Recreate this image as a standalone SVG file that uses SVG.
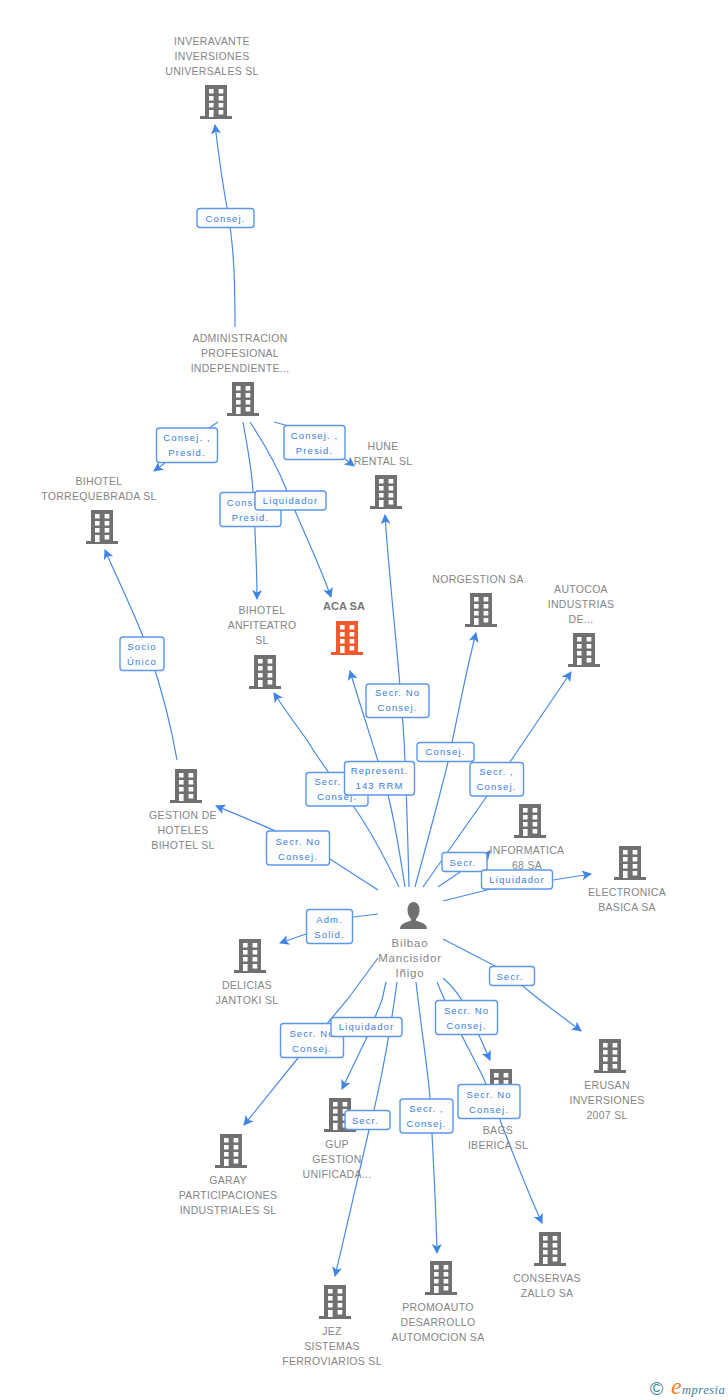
<svg xmlns="http://www.w3.org/2000/svg" width="728" height="1400" viewBox="0 0 728 1400">
<style>
text{font-family:"Liberation Sans",Arial,sans-serif}
.n{font-size:10.5px;fill:#858585;text-anchor:middle;letter-spacing:.3px}
.p{font-size:11.5px;fill:#858585;text-anchor:middle;letter-spacing:.8px}
.b{font-size:11px;font-weight:bold;fill:#777;text-anchor:middle}
.l{font-size:9.5px;fill:#3b80e0;text-anchor:middle;letter-spacing:1.1px}
.r{fill:#fdfdfd;stroke:#5b97ea;stroke-width:1.4}
.c{fill:none;stroke:#4a8ae6;stroke-width:1.2;marker-end:url(#a)}
</style>
<defs>
<marker id="a" markerUnits="userSpaceOnUse" markerWidth="12" markerHeight="12" refX="9" refY="5" orient="auto"><path d="M0 0L10 5L0 10L2.5 5Z" fill="#3f84e4"/></marker>
<g id="w"><path d="M-7 4h4.6v4.500H-7zM2.600 4h4.700v4.500H2.600zM-7 11h4.600v4.500H-7zM2.600 11h4.700v4.500H2.600zM-7 18h4.600v4.500H-7zM2.600 18h4.700v4.500H2.600zM-7 25h4.600v7H-7zM2.600 25h4.700v4.500H2.600z" fill="#fff"/></g>
<g id="i"><path d="M-11 0H11V31H16V34H-16V31H-11Z" fill="#707070"/><use href="#w"/></g>
<g id="o"><path d="M-11 0H11V31H16V34H-16V31H-11Z" fill="#f4592e"/><use href="#w"/></g>
</defs>
<g id="connectors">
<path class="c" d="M235 327C235 280 234 245 227 208C222 180 218 150 215 125"/>
<path class="c" d="M218 422L209 428M165 463L154 471"/>
<path class="c" d="M274 422L287 425.500M345 459L354 466"/>
<path class="c" d="M243 422C247 445 252 470 253 492C255 530 257 565 257 599"/>
<path class="c" d="M250 422C265 445 278 468 287 491C300 525 318 560 331 597"/>
<path class="c" d="M177 760C170 720 162 690 150 655C138 620 120 585 105 550"/>
<path class="c" d="M399 887C385 858 370 830 354 807C340 788 320 762 307 740C296 725 285 710 274 693"/>
<path class="c" d="M405 887C400 855 395 822 388 795C380 765 363 715 350 671"/>
<path class="c" d="M409 887C408 850 407 800 404 740C400 670 390 590 385 515"/>
<path class="c" d="M415 887C425 850 440 795 448 762C457 720 465 675 476 633"/>
<path class="c" d="M423 887L487 796C495 785 503 773 510 762L571 672"/>
<path class="c" d="M438 887L460 872C470 866 482 860 490 851"/>
<path class="c" d="M443 901L491 889M553 880L591 874"/>
<path class="c" d="M378 890L330 859C300 840 255 822 216 806"/>
<path class="c" d="M378 914L353 917M306 934L280 943"/>
<path class="c" d="M443 939L495 966C510 975 525 988 540 1000L581 1031"/>
<path class="c" d="M378 958L347 1000L298 1058L244 1125"/>
<path class="c" d="M386 982L382 1000L367 1037L342 1089"/>
<path class="c" d="M397 982C392 1020 381 1085 369 1130C360 1170 347 1225 335 1276"/>
<path class="c" d="M416 982C420 1020 428 1070 430 1098C433 1150 436 1210 437 1253"/>
<path class="c" d="M437 982C452 1020 470 1050 483 1077C500 1118 520 1175 542 1223"/>
<path class="c" d="M443 978C455 988 463 1000 470 1015L490 1060"/>
</g>
<g id="labels">
<g><rect class="r" x="197" y="208.500" width="57" height="19" rx="3"/><text class="l" x="225.500" y="222">Consej.</text></g>
<g><rect class="r" x="156.500" y="428" width="61" height="34.500" rx="3"/><text class="l" x="187" y="441">Consej. ,</text><text class="l" x="187" y="456">Presid.</text></g>
<g><rect class="r" x="284" y="425.500" width="61" height="34" rx="3"/><text class="l" x="314.500" y="439">Consej. ,</text><text class="l" x="314.500" y="454">Presid.</text></g>
<g><rect class="r" x="220" y="492.500" width="61" height="34" rx="3"/><text class="l" x="250.500" y="506">Consej. ,</text><text class="l" x="250.500" y="521">Presid.</text></g>
<g><rect class="r" x="255" y="491" width="71" height="19" rx="3"/><text class="l" x="290.500" y="504">Liquidador</text></g>
<g><rect class="r" x="120" y="637" width="44" height="33.500" rx="3"/><text class="l" x="142" y="650">Socio</text><text class="l" x="142" y="665">Único</text></g>
<g><rect class="r" x="366" y="684" width="63" height="33.500" rx="3"/><text class="l" x="397.500" y="696">Secr. No</text><text class="l" x="397.500" y="711">Consej.</text></g>
<g><rect class="r" x="417" y="742.500" width="57" height="19" rx="3"/><text class="l" x="445.500" y="755">Consej.</text></g>
<g><rect class="r" x="306" y="772.500" width="62" height="33.500" rx="3"/><text class="l" x="337" y="785">Secr. No</text><text class="l" x="337" y="800">Consej.</text></g>
<g><rect class="r" x="344.500" y="761.500" width="70" height="33.500" rx="3"/><text class="l" x="379.500" y="774">Represent.</text><text class="l" x="379.500" y="789">143 RRM</text></g>
<g><rect class="r" x="470" y="762.500" width="53.500" height="33.500" rx="3"/><text class="l" x="496.500" y="775">Secr. ,</text><text class="l" x="496.500" y="790">Consej.</text></g>
</g>
<g id="n1"><use href="#i" x="216" y="85"/><text class="n" x="212" y="45">INVERAVANTE</text><text class="n" x="212" y="60">INVERSIONES</text><text class="n" x="212" y="75">UNIVERSALES SL</text></g>
<g id="n2"><use href="#i" x="243" y="382"/><text class="n" x="240" y="342">ADMINISTRACION</text><text class="n" x="240" y="357">PROFESIONAL</text><text class="n" x="240" y="372">INDEPENDIENTE...</text></g>
<g id="n3"><use href="#i" x="386" y="475"/><text class="n" x="383" y="450">HUNE</text><text class="n" x="383" y="465">RENTAL SL</text></g>
<g id="n4"><use href="#i" x="102" y="510"/><text class="n" x="99" y="485">BIHOTEL</text><text class="n" x="99" y="500">TORREQUEBRADA SL</text></g>
<g id="n5"><use href="#i" x="481" y="593"/><text class="n" x="478" y="583">NORGESTION SA</text></g>
<g id="n6"><use href="#i" x="584" y="633"/><text class="n" x="581" y="593">AUTOCOA</text><text class="n" x="581" y="608">INDUSTRIAS</text><text class="n" x="581" y="623">DE...</text></g>
<g id="n7"><use href="#o" x="347" y="621"/><text class="b" x="344" y="610">ACA SA</text></g>
<g id="n8"><use href="#i" x="265" y="655"/><text class="n" x="262" y="614">BIHOTEL</text><text class="n" x="262" y="629">ANFITEATRO</text><text class="n" x="262" y="644">SL</text></g>
<g id="n9"><use href="#i" x="186" y="769"/><text class="n" x="183" y="819">GESTION DE</text><text class="n" x="183" y="834">HOTELES</text><text class="n" x="183" y="849">BIHOTEL SL</text></g>
<g id="n10"><use href="#i" x="530" y="804"/><text class="n" x="527" y="854">INFORMATICA</text><text class="n" x="527" y="869">68 SA</text></g>
<g id="n11"><use href="#i" x="630" y="846"/><text class="n" x="627" y="896">ELECTRONICA</text><text class="n" x="627" y="911">BASICA SA</text></g>
<g id="n12"><use href="#i" x="250" y="939"/><text class="n" x="247" y="989">DELICIAS</text><text class="n" x="247" y="1004">JANTOKI SL</text></g>
<g id="n13"><use href="#i" x="610" y="1039"/><text class="n" x="607" y="1089">ERUSAN</text><text class="n" x="607" y="1104">INVERSIONES</text><text class="n" x="607" y="1119">2007 SL</text></g>
<g id="n14"><use href="#i" x="501" y="1069"/><text class="n" x="498" y="1134">BAGS</text><text class="n" x="498" y="1149">IBERICA SL</text></g>
<g id="n15"><use href="#i" x="340" y="1098"/><text class="n" x="337" y="1148">GUP</text><text class="n" x="337" y="1163">GESTION</text><text class="n" x="337" y="1178">UNIFICADA...</text></g>
<g id="n16"><use href="#i" x="231" y="1134"/><text class="n" x="228" y="1184">GARAY</text><text class="n" x="228" y="1199">PARTICIPACIONES</text><text class="n" x="228" y="1214">INDUSTRIALES SL</text></g>
<g id="n17"><use href="#i" x="550" y="1232"/><text class="n" x="547" y="1282">CONSERVAS</text><text class="n" x="547" y="1297">ZALLO SA</text></g>
<g id="n18"><use href="#i" x="441" y="1261"/><text class="n" x="438" y="1311">PROMOAUTO</text><text class="n" x="438" y="1326">DESARROLLO</text><text class="n" x="438" y="1341">AUTOMOCION SA</text></g>
<g id="n19"><use href="#i" x="335" y="1285"/><text class="n" x="332" y="1335">JEZ</text><text class="n" x="332" y="1350">SISTEMAS</text><text class="n" x="332" y="1365">FERROVIARIOS SL</text></g>
<g id="person"><path d="M413.500 902c4 0 6 4 6 8c0 4-1.500 7-3.500 9v1.500c4 2 11 2.500 11 8.500h-27c0-6 7-6.500 11-8.500v-1.500c-2-2-3.500-5-3.500-9c0-4 2-8 6-8Z" fill="#707070"/><text class="p" x="410" y="947">Bilbao</text><text class="p" x="410" y="962">Mancisidor</text><text class="p" x="410" y="977">Iñigo</text></g>
<g id="labels2">
<g><rect class="r" x="442" y="852.500" width="45" height="19" rx="3"/><text class="l" x="463" y="866">Secr.</text></g>
<g><rect class="r" x="481.500" y="870" width="71" height="19" rx="3"/><text class="l" x="517" y="883">Liquidador</text></g>
<g><rect class="r" x="266.500" y="831" width="63" height="34" rx="3"/><text class="l" x="298" y="845">Secr. No</text><text class="l" x="298" y="860">Consej.</text></g>
<g><rect class="r" x="306.500" y="909.500" width="46" height="34" rx="3"/><text class="l" x="329.500" y="923">Adm.</text><text class="l" x="329.500" y="938">Solid.</text></g>
<g><rect class="r" x="489.500" y="966.500" width="45" height="19" rx="3"/><text class="l" x="510" y="980">Secr.</text></g>
<g><rect class="r" x="280.500" y="1023.500" width="63" height="34" rx="3"/><text class="l" x="312" y="1037">Secr. No</text><text class="l" x="312" y="1052">Consej.</text></g>
<g><rect class="r" x="331" y="1017.500" width="71" height="19" rx="3"/><text class="l" x="366.500" y="1030">Liquidador</text></g>
<g><rect class="r" x="435.500" y="1000.500" width="62" height="34" rx="3"/><text class="l" x="466.500" y="1014">Secr. No</text><text class="l" x="466.500" y="1029">Consej.</text></g>
<g><rect class="r" x="345" y="1110.500" width="45" height="19" rx="3"/><text class="l" x="365.500" y="1124">Secr.</text></g>
<g><rect class="r" x="400" y="1099" width="53" height="34" rx="3"/><text class="l" x="426.500" y="1112">Secr. ,</text><text class="l" x="426.500" y="1127">Consej.</text></g>
<g><rect class="r" x="458" y="1084.500" width="62" height="34" rx="3"/><text class="l" x="489" y="1098">Secr. No</text><text class="l" x="489" y="1113">Consej.</text></g>
</g>
<g id="logo"><text x="650" y="1395" style="font-size:18px;fill:#3d7f96">©</text><text x="671" y="1394" style="font-family:'Liberation Serif',serif;font-size:24px;font-style:italic;fill:#f08020">e</text><text x="682" y="1394" style="font-family:'Liberation Serif',serif;font-size:12.500px;font-style:italic;fill:#3d7f96;letter-spacing:.5px">mpresia</text></g>
</svg>
